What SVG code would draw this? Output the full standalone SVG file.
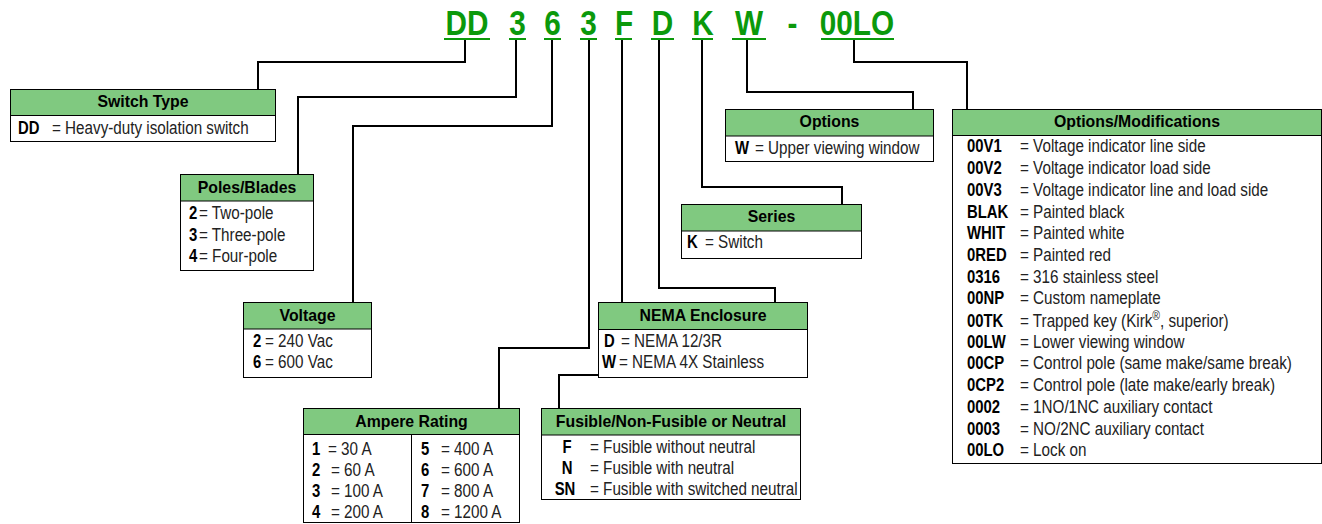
<svg xmlns="http://www.w3.org/2000/svg" width="1322" height="524" viewBox="0 0 1322 524">
<style>
text{font-family:"Liberation Sans Narrow","Liberation Sans",Arial,sans-serif;transform-box:fill-box;}
.code{font-size:35px;font-weight:bold;fill:#0b990b;text-anchor:middle;transform-origin:50% 0;transform:scaleX(.85);}
.ul{stroke:#0b990b;stroke-width:2;}
.box{fill:#fff;stroke:#000;stroke-width:1;}
.hdr{fill:#80c980;stroke:#000;stroke-width:1;}
.ht{font-size:16.5px;font-weight:bold;fill:#000;text-anchor:middle;transform-origin:50% 0;transform:scaleX(.96);}
.t{font-size:17.5px;fill:#222;transform-origin:0 0;transform:scaleX(.87);}
.b{font-size:17.5px;font-weight:bold;fill:#000;transform-origin:0 0;transform:scaleX(.85);}
.bc{font-size:17.5px;font-weight:bold;fill:#000;text-anchor:middle;transform-origin:50% 0;transform:scaleX(.85);}
.conn path{fill:none;stroke:#000;stroke-width:2;}
</style>
<rect width="1322" height="524" fill="#fff"/>
<g id="code">
<text class="code" x="467" y="35">DD</text>
<text class="code" x="517.5" y="35">3</text>
<text class="code" x="552.5" y="35">6</text>
<text class="code" x="588.5" y="35">3</text>
<text class="code" x="624" y="35">F</text>
<text class="code" x="662.5" y="35">D</text>
<text class="code" x="703" y="35">K</text>
<text class="code" x="749" y="35">W</text>
<text class="code" x="792.5" y="35">-</text>
<text class="code" x="857" y="35">00LO</text>
<line class="ul" x1="444" y1="39" x2="490" y2="39"/>
<line class="ul" x1="509" y1="39" x2="526" y2="39"/>
<line class="ul" x1="544" y1="39" x2="561" y2="39"/>
<line class="ul" x1="580" y1="39" x2="597" y2="39"/>
<line class="ul" x1="615" y1="39" x2="632" y2="39"/>
<line class="ul" x1="651" y1="39" x2="674" y2="39"/>
<line class="ul" x1="692" y1="39" x2="713" y2="39"/>
<line class="ul" x1="732" y1="39" x2="766" y2="39"/>
<line class="ul" x1="821" y1="39" x2="894" y2="39"/>
</g>
<g class="conn" id="connectors">
<path d="M465,40 V62 H258 V89"/>
<path d="M516,40 V97 H298 V174"/>
<path d="M552,40 V126 H353 V302"/>
<path d="M589,40 V348 H499 V408"/>
<path d="M622,40 V375 H559 V408"/>
<path d="M659,40 V288 H775 V302"/>
<path d="M702,40 V187 H842 V204"/>
<path d="M747,40 V92 H913 V109"/>
<path d="M854,40 V62 H967 V109"/>
</g>
<g id="switch-type">
<rect class="box" x="10.5" y="89.5" width="265" height="52"/>
<rect class="hdr" x="10.5" y="89.5" width="265" height="26"/>
<text class="ht" x="143" y="107.5">Switch Type</text>
<text class="b" x="18" y="134.5">DD</text>
<text class="t" x="52" y="134.5">= Heavy-duty isolation switch</text>
</g>
<g id="poles-blades">
<rect class="box" x="180.5" y="174.5" width="133" height="96"/>
<rect class="hdr" x="180.5" y="174.5" width="133" height="26.5"/>
<text class="ht" x="247" y="193">Poles/Blades</text>
<text class="b" x="189" y="219.5">2</text><text class="t" x="199" y="219.5">= Two-pole</text>
<text class="b" x="189" y="241">3</text><text class="t" x="199" y="241">= Three-pole</text>
<text class="b" x="189" y="262.5">4</text><text class="t" x="199" y="262.5">= Four-pole</text>
</g>
<g id="voltage">
<rect class="box" x="243.5" y="302.5" width="128" height="75"/>
<rect class="hdr" x="243.5" y="302.5" width="128" height="26.5"/>
<text class="ht" x="307.5" y="321">Voltage</text>
<text class="b" x="253" y="347">2</text><text class="t" x="265" y="347">= 240 Vac</text>
<text class="b" x="253" y="368.5">6</text><text class="t" x="265" y="368.5">= 600 Vac</text>
</g>
<g id="ampere-rating">
<rect class="box" x="303.5" y="408.5" width="216" height="114"/>
<rect class="hdr" x="303.5" y="408.5" width="216" height="26"/>
<line x1="411.5" y1="434.5" x2="411.5" y2="522.5" stroke="#000" stroke-width="1"/>
<text class="ht" x="411.5" y="427.5">Ampere Rating</text>
<text class="b" x="312" y="455">1</text><text class="t" x="328" y="455">= 30 A</text>
<text class="b" x="312" y="476">2</text><text class="t" x="331" y="476">= 60 A</text>
<text class="b" x="312" y="497">3</text><text class="t" x="331" y="497">= 100 A</text>
<text class="b" x="312" y="518">4</text><text class="t" x="331" y="518">= 200 A</text>
<text class="b" x="421" y="455">5</text><text class="t" x="441" y="455">= 400 A</text>
<text class="b" x="421" y="476">6</text><text class="t" x="441" y="476">= 600 A</text>
<text class="b" x="421" y="497">7</text><text class="t" x="441" y="497">= 800 A</text>
<text class="b" x="421" y="518">8</text><text class="t" x="441" y="518">= 1200 A</text>
</g>
<g id="fusible">
<rect class="box" x="541.5" y="408.5" width="259" height="91"/>
<rect class="hdr" x="541.5" y="408.5" width="259" height="26.5"/>
<text class="ht" x="671" y="427.5">Fusible/Non-Fusible or Neutral</text>
<text class="bc" x="567" y="453.5">F</text><text class="t" x="590" y="453.5">= Fusible without neutral</text>
<text class="bc" x="567" y="474.5">N</text><text class="t" x="590" y="474.5">= Fusible with neutral</text>
<text class="bc" x="565" y="495">SN</text><text class="t" x="590" y="495">= Fusible with switched neutral</text>
</g>
<g id="nema-enclosure">
<rect class="box" x="598.5" y="302.5" width="209" height="75"/>
<rect class="hdr" x="598.5" y="302.5" width="209" height="27"/>
<text class="ht" x="703" y="321">NEMA Enclosure</text>
<text class="b" x="604" y="347">D</text><text class="t" x="621" y="347">= NEMA 12/3R</text>
<text class="b" x="602" y="368.5">W</text><text class="t" x="619" y="368.5">= NEMA 4X Stainless</text>
</g>
<g id="series">
<rect class="box" x="681.5" y="204.5" width="180" height="54"/>
<rect class="hdr" x="681.5" y="204.5" width="180" height="26.5"/>
<text class="ht" x="771.5" y="222.5">Series</text>
<text class="b" x="687" y="248.5">K</text><text class="t" x="705" y="248.5">= Switch</text>
</g>
<g id="options">
<rect class="box" x="725.5" y="109.5" width="208" height="52"/>
<rect class="hdr" x="725.5" y="109.5" width="208" height="26.5"/>
<text class="ht" x="829.5" y="127.5">Options</text>
<text class="b" x="735" y="154.5">W</text><text class="t" x="755" y="154.5">= Upper viewing window</text>
</g>
<g id="options-modifications">
<rect class="box" x="952.5" y="109.5" width="369" height="354"/>
<rect class="hdr" x="952.5" y="109.5" width="369" height="26"/>
<text class="ht" x="1137" y="127.5">Options/Modifications</text>
<text class="b" x="967" y="152.5">00V1</text><text class="t" x="1020" y="152.5">= Voltage indicator line side</text>
<text class="b" x="967" y="174.2">00V2</text><text class="t" x="1020" y="174.2">= Voltage indicator load side</text>
<text class="b" x="967" y="195.9">00V3</text><text class="t" x="1020" y="195.9">= Voltage indicator line and load side</text>
<text class="b" x="967" y="217.6">BLAK</text><text class="t" x="1020" y="217.6">= Painted black</text>
<text class="b" x="967" y="239.3">WHIT</text><text class="t" x="1020" y="239.3">= Painted white</text>
<text class="b" x="967" y="261">0RED</text><text class="t" x="1020" y="261">= Painted red</text>
<text class="b" x="967" y="282.7">0316</text><text class="t" x="1020" y="282.7">= 316 stainless steel</text>
<text class="b" x="967" y="304.4">00NP</text><text class="t" x="1020" y="304.4">= Custom nameplate</text>
<text class="b" x="967" y="327">00TK</text><text class="t" x="1020" y="327">= Trapped key (Kirk<tspan font-size="12" dy="-7">®</tspan><tspan dy="7">, superior)</tspan></text>
<text class="b" x="967" y="347.8">00LW</text><text class="t" x="1020" y="347.8">= Lower viewing window</text>
<text class="b" x="967" y="369.5">00CP</text><text class="t" x="1020" y="369.5">= Control pole (same make/same break)</text>
<text class="b" x="967" y="391.2">0CP2</text><text class="t" x="1020" y="391.2">= Control pole (late make/early break)</text>
<text class="b" x="967" y="412.9">0002</text><text class="t" x="1020" y="412.9">= 1NO/1NC auxiliary contact</text>
<text class="b" x="967" y="434.6">0003</text><text class="t" x="1020" y="434.6">= NO/2NC auxiliary contact</text>
<text class="b" x="967" y="456.3">00LO</text><text class="t" x="1020" y="456.3">= Lock on</text>
</g>
</svg>
